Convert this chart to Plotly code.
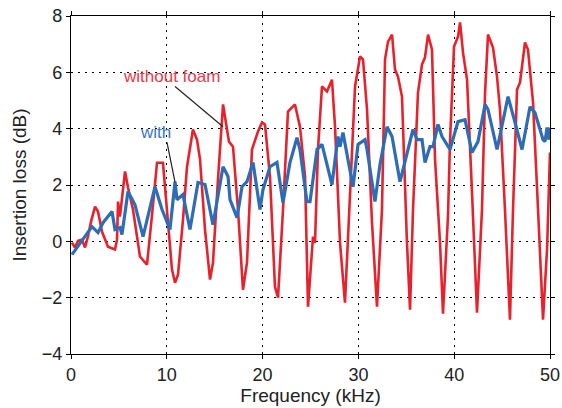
import plotly.graph_objects as go

# Frequency (kHz) and insertion loss (dB) — without foam
freq_without = [
    0.10, 0.42, 0.73, 1.15, 1.46, 1.77, 2.09, 2.51, 2.82, 3.24,
    3.86, 4.59, 4.80, 4.91, 5.11, 5.32, 5.64, 5.95, 6.47, 7.20,
    7.93, 8.46, 8.98, 9.60, 10.02, 10.54, 10.86, 11.17, 11.69, 12.11,
    12.73, 13.15, 13.47, 13.99, 14.51, 14.82, 15.34, 15.87, 16.49, 16.91,
    17.43, 17.95, 18.37, 18.89, 19.52, 19.94, 20.25, 20.77, 21.29, 21.61,
    22.13, 22.65, 23.38, 23.90, 24.43, 24.74, 25.26, 25.47, 25.78, 26.20,
    26.72, 27.24, 27.56, 28.08, 28.60, 29.12, 29.65, 30.17, 30.48, 30.90,
    31.42, 31.94, 32.46, 32.78, 33.09, 33.51, 33.82, 34.13, 34.55, 35.07,
    35.39, 35.70, 36.22, 36.64, 36.95, 37.27, 37.68, 38.00, 38.52, 38.83,
    39.35, 39.56, 39.98, 40.40, 40.61, 40.92, 41.34, 41.86, 42.38, 42.90,
    43.22, 43.53, 44.05, 44.47, 44.78, 45.30, 45.82, 46.14, 46.56, 46.87,
    47.39, 47.70, 48.23, 48.75, 49.27, 49.69, 50.0,
]
loss_without = [
    -0.05, -0.22, 0.02, 0.06, -0.22, 0.17, 0.70, 1.23, 1.06, 0.34,
    -0.19, -0.29, 0.06, 1.41, 0.88, 1.48, 2.48, 1.91, 1.13, -0.54,
    -0.83, 0.95, 2.79, 2.79, 1.13, -1.00, -1.47, -1.18, 0.77, 2.65,
    3.97, 3.61, 2.90, 0.41, -1.36, -0.76, 2.19, 4.86, 3.54, 3.36,
    1.13, -1.72, -0.76, 3.26, 3.90, 4.22, 4.15, 2.30, -1.61, -2.00,
    1.13, 4.61, 4.86, 4.07, 2.30, -2.32, 0.17, -0.05, 3.26, 5.50,
    5.32, 5.74, 4.07, -0.05, -2.18, 1.73, 5.50, 6.56, 6.46, 4.68,
    0.66, -2.32, 1.13, 6.46, 7.09, 7.34, 6.10, 5.85, 5.14, -0.05,
    -2.43, 1.13, 5.28, 6.28, 6.53, 7.34, 6.81, 2.90, -0.05, -2.57,
    0.88, 3.51, 6.92, 7.27, 7.77, 6.70, 5.74, 1.73, -2.53, 1.13,
    5.28, 7.34, 6.88, 5.85, 4.68, 1.13, -2.78, 1.13, 5.39, 5.64,
    7.06, 6.81, 4.93, 1.13, -2.78, -0.29, 3.15,
]

# with foam
freq_with = [
    0.10, 0.63, 1.46, 2.19, 2.82, 3.34, 4.28, 4.59, 5.11, 5.32,
    5.95, 6.68, 7.52, 8.77, 9.50, 10.33, 10.86, 11.06, 11.69, 12.42,
    13.26, 13.99, 14.82, 15.87, 16.39, 16.60, 17.33, 17.85, 18.37, 19.00,
    19.73, 20.04, 20.77, 21.50, 22.13, 22.86, 23.59, 23.90, 24.63, 24.95,
    25.68, 26.20, 27.24, 27.87, 28.08, 28.39, 29.44, 29.96, 30.69, 30.90,
    31.73, 32.25, 32.99, 33.51, 34.34, 35.07, 35.70, 36.12, 36.64, 36.95,
    37.47, 37.79, 38.31, 38.73, 39.56, 40.40, 41.13, 41.86, 42.48, 43.22,
    43.53, 44.47, 45.62, 46.35, 47.08, 47.91, 48.43, 49.27, 49.48, 49.69,
    49.90, 50.0,
]
loss_with = [
    -0.47, -0.22, 0.13, 0.52, 0.31, 0.66, 1.06, 0.42, 0.49, 0.24,
    1.77, 1.30, 0.17, 1.94, 1.13, 0.42, 2.12, 1.48, 1.66, 0.42,
    2.09, 2.02, 0.59, 2.65, 2.30, 1.48, 0.84, 1.94, 2.12, 2.80,
    1.13, 1.84, 2.65, 2.80, 1.37, 2.80, 3.68, 3.26, 1.41, 1.41,
    3.26, 3.44, 2.01, 3.72, 3.36, 3.86, 1.94, 3.44, 3.61, 3.26,
    1.41, 2.72, 4.07, 3.72, 2.12, 3.15, 3.97, 3.61, 3.61, 2.80,
    3.36, 3.36, 4.15, 3.72, 3.26, 4.25, 4.32, 3.15, 3.54, 4.86,
    4.68, 3.26, 5.14, 4.22, 3.26, 4.78, 4.57, 3.61, 3.54, 4.04,
    3.61, 4.04,
]

x_ticks = [0, 10, 20, 30, 40, 50]
y_ticks = [-4, -2, 0, 2, 4, 6, 8]

# labels: (text, text position, leader line start, leader line end) in data units
label_without = ("without foam", (10.54, 5.85), (10.86, 5.50), (15.87, 4.07))
label_with = ("with", (8.77, 3.86), (10.02, 3.51), (10.86, 2.09))

RED = "#e8222c"
BLUE = "#2e6db6"
FONT = "Liberation Sans, Arial, sans-serif"
TXT = "#222222"

fig = go.Figure()
fig.add_trace(go.Scatter(x=freq_without, y=loss_without, mode="lines",
                         line=dict(color=RED, width=2.6), name="without foam"))
fig.add_trace(go.Scatter(x=freq_with, y=loss_with, mode="lines",
                         line=dict(color=BLUE, width=3.2), name="with"))

for (txt, pos, p0, p1), col in ((label_without, "#f0364c"), (label_with, "#3a78c8")):
    fig.add_annotation(x=pos[0], y=pos[1], text=txt, showarrow=False,
                       xanchor="center", yanchor="middle",
                       font=dict(color=col, size=17, family=FONT))
    fig.add_shape(type="line", x0=p0[0], y0=p0[1], x1=p1[0], y1=p1[1],
                  xref="x", yref="y", line=dict(color="#222", width=1.2))

axis_common = dict(showline=True, linecolor="black", linewidth=1.2, mirror="ticks",
                   ticks="outside", ticklen=4, tickcolor="black", automargin=False,
                   showgrid=True, gridcolor="black", gridwidth=1, griddash="2px,5px",
                   zeroline=False, tickfont=dict(size=18, family=FONT, color=TXT))

fig.update_xaxes(range=[0, 50], tickvals=x_ticks, **axis_common,
                 title=dict(text="Frequency (kHz)", font=dict(size=19, family=FONT, color=TXT), standoff=2))
fig.update_yaxes(range=[-4, 8], tickvals=y_ticks, **axis_common,
                 title=dict(text="Insertion loss (dB)", font=dict(size=19, family=FONT, color=TXT), standoff=10))

fig.update_layout(width=562, height=408, margin=dict(l=71, r=12, t=16, b=54),
                  paper_bgcolor="white", plot_bgcolor="white", showlegend=False,
                  font=dict(family=FONT))

fig.write_html("out.html")
